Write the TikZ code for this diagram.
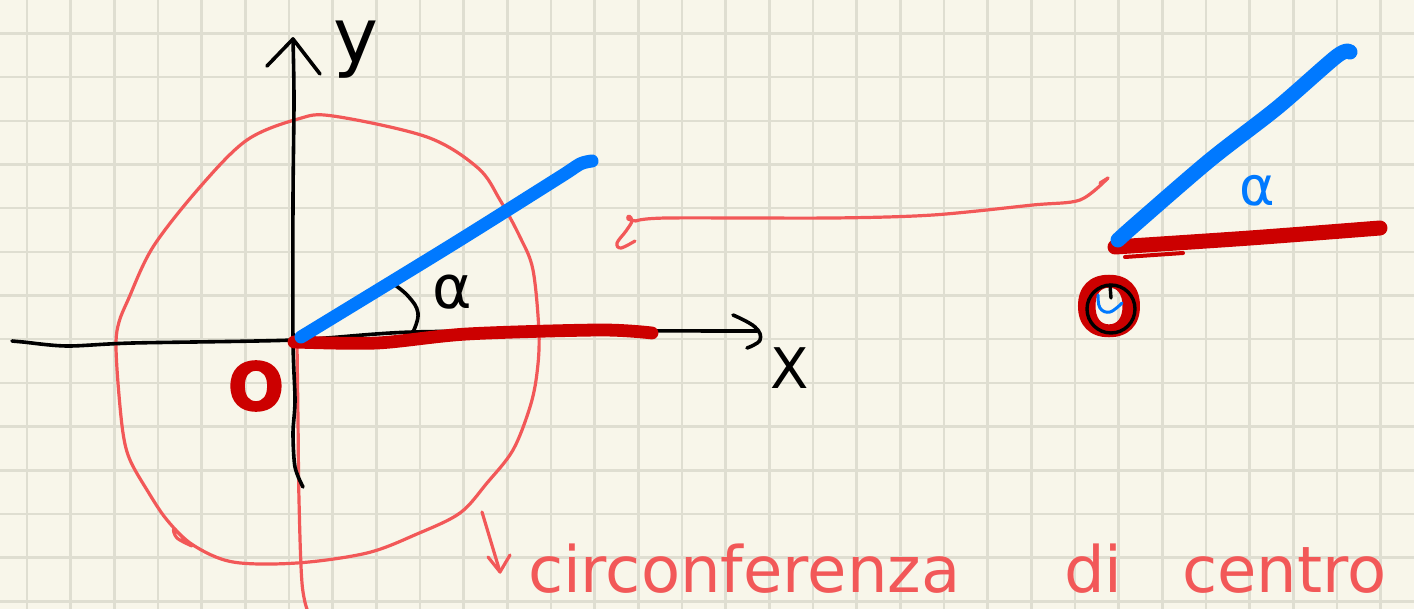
\documentclass[tikz,border=0pt]{standalone}
\usepackage{fontspec}
\newfontfamily\hand{DejaVu Sans}
\newfontfamily\handbold[FakeBold=2.5]{DejaVu Sans Bold}
\definecolor{paper}{HTML}{F8F6EA}
\definecolor{gridc}{HTML}{DFDED1}
\definecolor{salmon}{HTML}{F25858}
\definecolor{deepred}{HTML}{CC0000}
\definecolor{vivblue}{HTML}{0079FF}
\tikzset{
  gridline/.style={draw=gridc, line width=1.3pt},
  axisline/.style={draw=black, line width=1.8pt, line cap=round, line join=round},
  thinred/.style={draw=salmon, line width=1.6pt, line cap=round, line join=round},
  fatred/.style={draw=deepred, line width=6.4pt, line cap=round, line join=round},
  fatblue/.style={draw=vivblue, line width=6.5pt, line cap=round, line join=round},
  lbl/.style={inner sep=0pt, outer sep=0pt},
  script/.style={lbl, anchor=base west, font=\hand\fontsize{32}{34}\selectfont, text=salmon},
}
\begin{document}
\begin{tikzpicture}[x=0.5pt,y=-0.5pt]
\useasboundingbox (0,0) rectangle (1414,609);
\clip (0,0) rectangle (1414,609);
\fill[paper] (0,0) rectangle (1414,609);
% grid
\foreach \i in {0,...,32} \draw[gridline] ({27+43.67*\i},0) -- ({27+43.67*\i},609);
\foreach \j in {0,...,13} \draw[gridline] (0,{33.5+43.67*\j}) -- (1414,{33.5+43.67*\j});

% ---------- left figure ----------
\coordinate (orig) at (294,340);
\coordinate (ytip) at (293,39);
\coordinate (xtip) at (757,331);

% red circle
\draw[thinred] plot[smooth cycle, tension=0.55] coordinates {
 (116,343) (118,383) (123,433) (130,460) (147,490) (167,520) (193,545)
 (233,562) (297,563) (367,553) (417,534) (460,513) (487,483) (513,450)
 (530,407) (537,373) (539,333) (533,270) (520,237) (500,200) (478,168)
 (427,137) (333,116) (298,119) (247,140) (200,187) (153,247) (128,300) (119,322)};
\draw[thinred] plot[smooth, tension=0.6] coordinates {(185,540) (174,529) (177,538) (192,546)};
% red vertical line under origin
\draw[thinred] plot[smooth, tension=0.6] coordinates {(297,343) (298,420) (299,500) (302,583) (308,612)};

% axes
\draw[axisline] plot[smooth, tension=0.5] coordinates {(303,487) (295,467) (293,433) (295,400) (293,340) (293,200) (294,100) (ytip)};
\draw[axisline] (267,66) -- (ytip) -- (320,74);
\draw[axisline] plot[smooth, tension=0.5] coordinates {(12,341) (23,342) (67,346) (133,343) (orig) (413,332) (600,331) (xtip)};
\draw[axisline] plot[smooth, tension=0.7] coordinates {(733,315) (755,327) (760,340) (747,348)};

% angle arc
\draw[axisline] plot[smooth, tension=0.7] coordinates {(392,283) (408,296) (418,313) (413,332)};

% thick rays
\draw[fatred] plot[smooth, tension=0.5] coordinates {(294,342) (377,343) (467,334) (600,330) (652,333)};
\draw[fatblue] plot[smooth, tension=0.5] coordinates {(301,337) (450,246) (560,177) (580,164) (592,161)};

% labels
\node[lbl, font=\hand\fontsize{38}{40}\selectfont] (ylab) at (356,50) {y};
\node[lbl, font=\hand\fontsize{28}{30}\selectfont] (xlab) at (790,368) {X};
\node[lbl, font=\hand\fontsize{30}{32}\selectfont] (alpha1) at (452,292) {α};
\node[lbl, font=\handbold\fontsize{33}{35}\selectfont, text=deepred] (O1) at (256,386) {O};

% down arrow + text
\coordinate (dtop) at (482,512);
\coordinate (dtip) at (500,572);
\draw[thinred] (dtop) -- (dtip);
\draw[thinred] (488,557) -- (dtip) -- (510,555);
\node[script] (t1) at (528,592) {circonferenza};
\node[script] (t2) at (1064,592) {di};
\node[script] (t3) at (1182,592) {centro};

% ---------- connecting curve ----------
\draw[thinred] plot[smooth, tension=0.5] coordinates {(1108,178) (1080,200) (1033,205) (933,215) (833,218) (667,218) (636,221)};
\draw[thinred] plot[smooth, tension=0.6] coordinates {(636,221) (628,219) (629,216) (632,221) (626,231) (617,243) (621,248) (635,241)};
\draw[thinred] (1100,183) -- (1108,178);

% ---------- right figure ----------
\draw[draw=deepred, line width=2pt, line cap=round] (1125,257) -- (1183,253);
\draw[fatred, line width=7.5pt] plot[smooth, tension=0.5] coordinates {(1115,247) (1250,238) (1380,228)};
\draw[fatblue, line width=7.5pt] plot[smooth, tension=0.5] coordinates {(1118,240) (1137,223) (1210,160) (1277,108) (1337,56) (1350,52)};
\node[lbl, font=\hand\fontsize{27}{29}\selectfont, text=vivblue] (alpha2) at (1257,191) {α};

\node[lbl, font=\handbold\fontsize{40}{42}\selectfont, text=deepred] (O2) at (1109,306) {O};
\draw[axisline, line width=1.7pt] (1111,309) circle[radius=24];
\draw[draw=vivblue, line width=1.5pt, line cap=round] plot[smooth, tension=0.7] coordinates {(1098,295) (1100,308) (1110,312) (1122,303)};
\draw[axisline, line width=1.7pt] (1110,285) -- (1111,298);
\end{tikzpicture}
\end{document}
